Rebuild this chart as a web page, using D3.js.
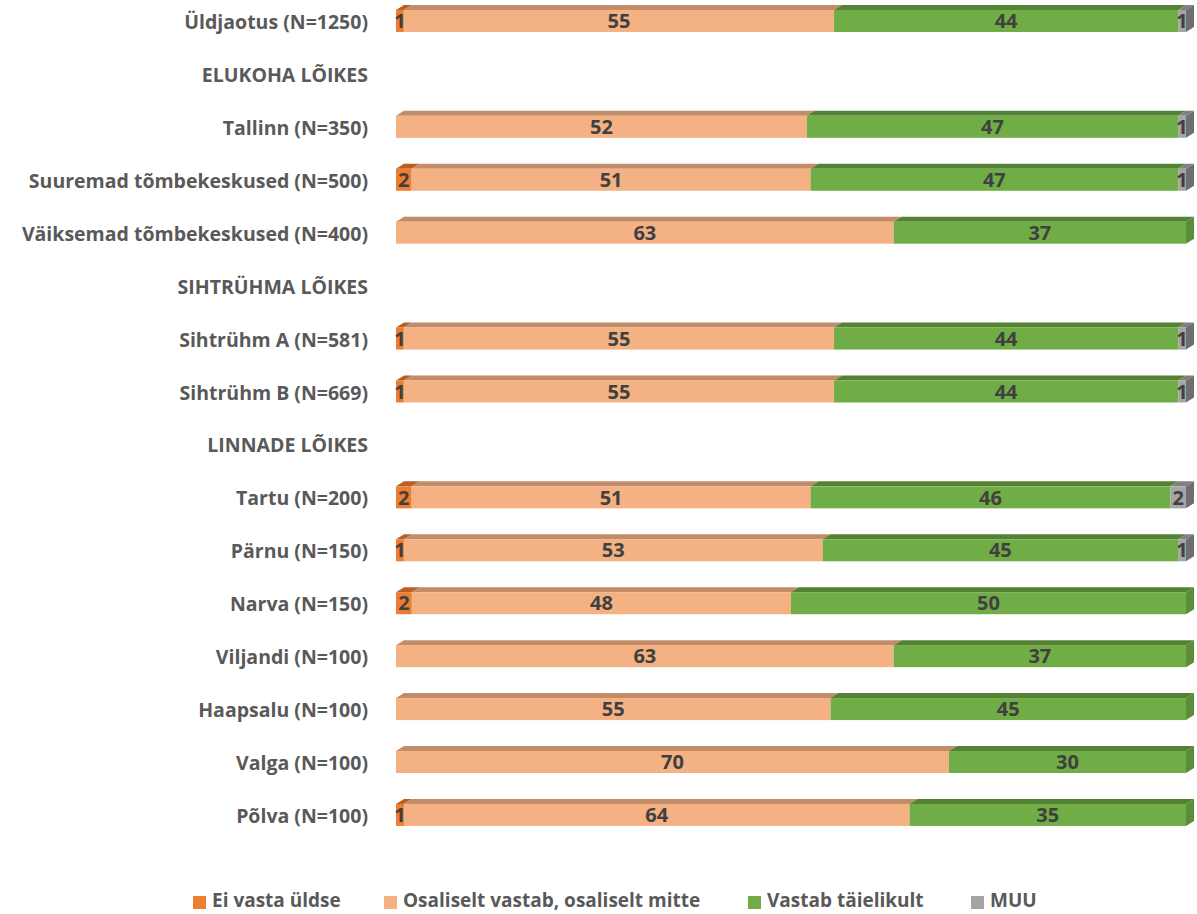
<!DOCTYPE html>
<html>
<head>
<meta charset="utf-8">
<script src="https://cdn.jsdelivr.net/npm/d3@7"></script>
<style>
  body { margin: 0; background: #fff; }
  text { font-family: "Open Sans", sans-serif; font-weight: bold; }
</style>
</head>
<body>
<svg id="chart" width="1197" height="914"></svg>
<script>
// rows, top to bottom (headers have no bars)
var categories = ["Üldjaotus (N=1250)", "ELUKOHA LÕIKES", "Tallinn (N=350)", "Suuremad tõmbekeskused (N=500)",
  "Väiksemad tõmbekeskused (N=400)", "SIHTRÜHMA LÕIKES", "Sihtrühm A (N=581)", "Sihtrühm B (N=669)",
  "LINNADE LÕIKES", "Tartu (N=200)", "Pärnu (N=150)", "Narva (N=150)", "Viljandi (N=100)",
  "Haapsalu (N=100)", "Valga (N=100)", "Põlva (N=100)"];
var headers = ["ELUKOHA LÕIKES", "SIHTRÜHMA LÕIKES", "LINNADE LÕIKES"];

var keys = ["Ei vasta üldse", "Osaliselt vastab, osaliselt mitte", "Vastab täielikult", "MUU"];

var eiVasta   = [1, null, 0, 2, 0, null, 1, 1, null, 2, 1, 2, 0, 0, 0, 1];
var osaliselt = [55, null, 52, 51, 63, null, 55, 55, null, 51, 53, 48, 63, 55, 70, 64];
var vastab    = [44, null, 47, 47, 37, null, 44, 44, null, 46, 45, 50, 37, 45, 30, 35];
var muu       = [1, null, 1, 1, 0, null, 1, 1, null, 2, 1, 0, 0, 0, 0, 0];

var colors = ["#ED7D31", "#F4B183", "#70AD47", "#A5A5A5"];
var topColors = ["#B95F22", "#C28C68", "#548235", "#7F7F7F"];
var sideColors = ["#C8692A", "#D09670", "#5A8C3A", "#6E6E6E"];

var data = categories.map(function(c, i) {
  return { cat: c, "Ei vasta üldse": eiVasta[i] || 0, "Osaliselt vastab, osaliselt mitte": osaliselt[i] || 0,
    "Vastab täielikult": vastab[i] || 0, "MUU": muu[i] || 0, header: headers.indexOf(c) > -1 };
});

var svg = d3.select("#chart");
var x = d3.scaleLinear().domain([0, 1]).range([396, 1186]);
var y = d3.scaleBand().domain(categories).range([-5.5, 841.4]).paddingInner(0.584).paddingOuter(0.292);

var dx = 8, dy = 5;

var barRows = data.filter(function(d) { return !d.header; });
var series = d3.stack().keys(keys).offset(d3.stackOffsetExpand)(barRows);

var g = svg.append("g");

series.forEach(function(s, k) {
  s.forEach(function(seg) {
    var d = seg.data;
    if (d[s.key] <= 0) return;
    var x0 = x(seg[0]), x1 = x(seg[1]), yy = y(d.cat), h = y.bandwidth();
    // top face
    g.append("path")
      .attr("d", "M" + x0 + "," + yy + "L" + (x0 + dx) + "," + (yy - dy) + "L" + (x1 + dx) + "," + (yy - dy) + "L" + x1 + "," + yy + "Z")
      .attr("fill", topColors[k]);
    // front face
    g.append("rect")
      .attr("x", x0).attr("y", yy).attr("width", x1 - x0).attr("height", h)
      .attr("fill", colors[k]);
    // side face on the last visible segment
    if (seg[1] >= 0.9999) {
      g.append("path")
        .attr("d", "M" + x1 + "," + yy + "L" + (x1 + dx) + "," + (yy - dy) + "L" + (x1 + dx) + "," + (yy - dy + h) + "L" + x1 + "," + (yy + h) + "Z")
        .attr("fill", sideColors[k]);
    }
    // value label
    g.append("text")
      .attr("x", (x0 + x1) / 2)
      .attr("y", yy + h / 2)
      .attr("dy", "0.36em")
      .attr("text-anchor", "middle")
      .attr("font-size", 20)
      .attr("fill", "#404040")
      .text(d[s.key]);
  });
});

// category labels
svg.append("g").selectAll("text")
  .data(categories)
  .enter().append("text")
  .attr("x", 368)
  .attr("y", function(d) { return y(d) + y.bandwidth() / 2 + 1; })
  .attr("dy", "0.36em")
  .attr("text-anchor", "end")
  .attr("font-size", 19.5)
  .attr("fill", "#595959")
  .text(function(d) { return d; });

// legend
var legendX = [193, 384, 748, 971];
var legend = svg.append("g").selectAll("g")
  .data(keys)
  .enter().append("g")
  .attr("transform", function(d, i) { return "translate(" + legendX[i] + ",896)"; });

legend.append("rect")
  .attr("width", 13).attr("height", 13)
  .attr("fill", function(d, i) { return colors[i]; });

legend.append("text")
  .attr("x", 19)
  .attr("y", 4)
  .attr("dy", "0.36em")
  .attr("font-size", 19)
  .attr("fill", "#595959")
  .text(function(d) { return d; });
</script>
</body>
</html>
